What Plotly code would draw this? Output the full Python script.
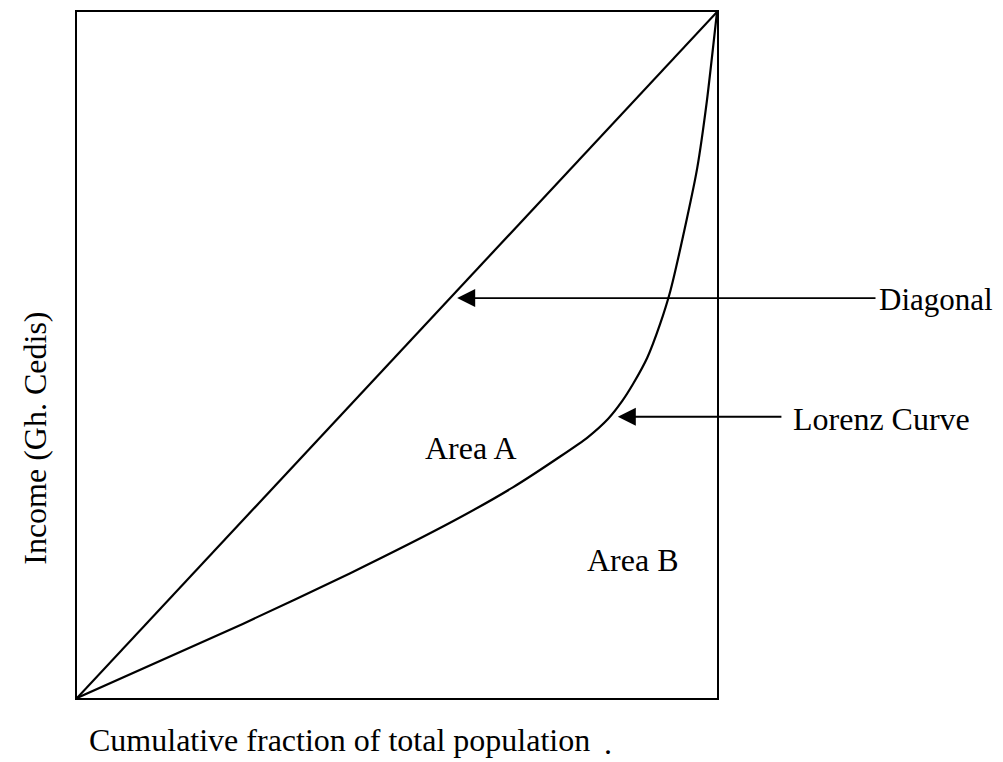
import plotly.graph_objects as go

# line of equality
diagonal_x = [0, 1]
diagonal_y = [0, 1]

# Lorenz curve
lorenz_x = [0, 0.259, 0.427, 0.588, 0.681, 0.755, 0.798, 0.830, 0.852,
            0.869, 0.891, 0.911, 0.927, 0.953, 0.969, 0.984, 1]
lorenz_y = [0, 0.108, 0.182, 0.258, 0.307, 0.352, 0.380, 0.407, 0.433,
            0.458, 0.496, 0.545, 0.593, 0.699, 0.772, 0.869, 1]

font = dict(family="Liberation Serif, Times New Roman, serif", size=32, color="black")

fig = go.Figure()
fig.add_trace(go.Scatter(x=diagonal_x, y=diagonal_y, mode="lines",
                         line=dict(color="black", width=2.2), hoverinfo="skip"))
fig.add_trace(go.Scatter(x=lorenz_x, y=lorenz_y, mode="lines",
                         line=dict(color="black", width=2.2, shape="spline", smoothing=0.6),
                         hoverinfo="skip"))

# arrows pointing at the two curves
fig.add_annotation(x=0.594, y=0.583, ax=1.25, ay=0.583, axref="x", ayref="y",
                   text="", showarrow=True, arrowhead=2, arrowsize=2,
                   arrowwidth=1.8, arrowcolor="black")
fig.add_annotation(x=0.845, y=0.410, ax=1.103, ay=0.410, axref="x", ayref="y",
                   text="", showarrow=True, arrowhead=2, arrowsize=2,
                   arrowwidth=1.8, arrowcolor="black")

labels = [
    ("Diagonal", 1.250, 0.581, "left", 31),
    ("Lorenz Curve", 1.115, 0.407, "left", 32),
    ("Area A", 0.616, 0.365, "center", 32),
    ("Area B", 0.869, 0.201, "center", 32),
    ("Cumulative fraction of total population", 0.015, -0.061, "left", 32),
    (".", 0.83, -0.066, "center", 32),
]
for txt, x, y, anchor, size in labels:
    fig.add_annotation(x=x, y=y, xref="paper", yref="paper", text=txt,
                       showarrow=False, xanchor=anchor, yanchor="middle",
                       font=dict(font, size=size))

fig.add_annotation(x=-0.066, y=0.379, xref="paper", yref="paper",
                   text="Income (Gh. Cedis)", textangle=-90, showarrow=False,
                   xanchor="center", yanchor="middle", font=font)

axis = dict(range=[0, 1], showgrid=False, zeroline=False, showticklabels=False,
            ticks="", showline=True, mirror=True, linecolor="black", linewidth=2)

# page body adds an 8px margin, so the figure is 8px smaller on each side
fig.update_layout(
    width=995, height=754,
    margin=dict(l=69, r=286, t=2, b=64),
    paper_bgcolor="white", plot_bgcolor="white",
    showlegend=False,
    xaxis=axis, yaxis=axis,
)

fig.write_html("out.html")
